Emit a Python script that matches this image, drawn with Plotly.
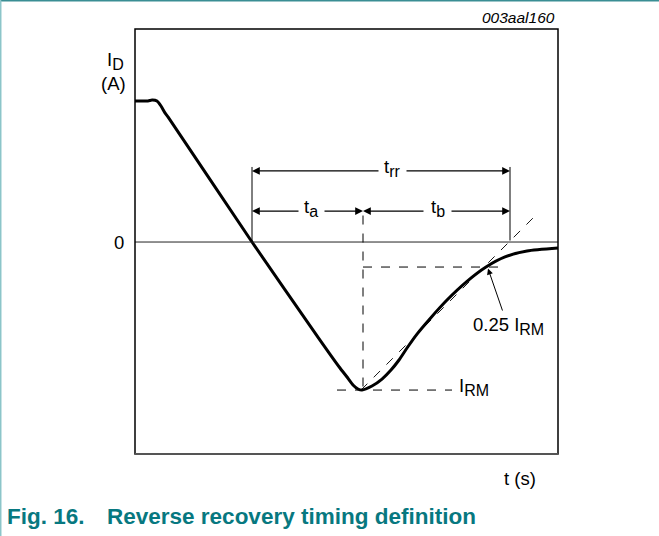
import plotly.graph_objects as go

# ---- data (arbitrary time units, current normalised to I_RM = -1) ----
t = [0.0, 1.3, 1.7, 2.2, 2.6, 3.0, 3.3, 11.7, 18.5, 20.5, 21.2, 21.8, 22.3, 22.7,
     23.7, 24.7, 25.6, 26.4, 27.2, 28.2, 29.5, 31.2, 33.2, 35.1, 37.0, 39.2, 42.3]
i_d = [0.953, 0.953, 0.959, 0.953, 0.919, 0.872, 0.845, 0.0, -0.662, -0.851,
       -0.912, -0.966, -0.993, -1.0, -0.973, -0.926, -0.865, -0.797, -0.716,
       -0.622, -0.518, -0.392, -0.266, -0.169, -0.101, -0.061, -0.041]

T_ZERO = 11.7      # current crosses zero
T_RM = 22.7        # time of peak reverse current
I_RM = -1.0        # peak reverse current
T_END = 37.5       # end of t_rr (tangent crosses zero)
I_25 = -0.169      # 0.25 I_RM level as drawn
T_25 = 35.3        # point where curve reaches 0.25 I_RM
TAN_END = (40.3, 0.196)
X_MAX = 42.3
Y_MIN, Y_MAX = -1.432, 1.439
ROW_TRR = 0.480
ROW_TAB = 0.209
V_TOP = 0.507

BLACK = "#000000"
TEAL = "#077880"
FONT = "Liberation Sans, Arial, sans-serif"
FS = 18.5
SUB_FS = 16

def sub(s):
    return '<sub><span style="font-size:%gpx">%s</span></sub>' % (SUB_FS, s)

fig = go.Figure()

# main curve
fig.add_trace(go.Scatter(x=t, y=i_d, mode="lines",
                         line=dict(color=BLACK, width=3, shape="spline", smoothing=0.6),
                         hoverinfo="skip", showlegend=False))

def seg(x0, y0, x1, y1, dash="solid", width=1.0, color=BLACK):
    fig.add_shape(type="line", x0=x0, y0=y0, x1=x1, y1=y1, xref="x", yref="y",
                  line=dict(color=color, width=width, dash=dash))

# zero line
seg(0, 0, X_MAX, 0, width=1.0, color="#222222")
# dashed construction lines
seg(20.2, I_RM, 31.7, I_RM, dash="dash")
seg(T_RM + 0.1, ROW_TAB - 0.03, T_RM + 0.1, I_RM, dash="dash")
seg(T_RM + 0.1, I_25, 37.0, I_25, dash="dash")
seg(22.6, I_RM, TAN_END[0], TAN_END[1], dash="dash", width=0.9)
# vertical limits of t_rr
seg(T_ZERO, V_TOP, T_ZERO, 0)
seg(T_END, V_TOP, T_END, 0.01)

def arrow(x_tip, y_tip, x_tail, y_tail, width=1.2, size=1.3):
    fig.add_annotation(x=x_tip, y=y_tip, ax=x_tail, ay=y_tail, xref="x", yref="y",
                       axref="x", ayref="y", text="", showarrow=True,
                       arrowhead=2, arrowsize=size, arrowwidth=width,
                       arrowcolor=BLACK, standoff=0, startstandoff=0)

# t_rr row
arrow(T_ZERO, ROW_TRR, 24.5, ROW_TRR)
arrow(T_END, ROW_TRR, 27.0, ROW_TRR)
# t_a row
arrow(T_ZERO, ROW_TAB, 16.5, ROW_TAB)
arrow(T_RM + 0.1, ROW_TAB, 18.8, ROW_TAB)
# t_b row
arrow(T_RM + 0.1, ROW_TAB, 29.0, ROW_TAB)
arrow(T_END, ROW_TAB, 31.5, ROW_TAB)
# 0.25 I_RM leader
arrow(T_25, I_25 - 0.01, 36.8, -0.473, width=1.0, size=1.2)

def label(x, y, text, size=FS, xanchor="center", yanchor="middle", xref="x", yref="y",
          color=BLACK, family=FONT):
    fig.add_annotation(x=x, y=y, text=text, xref=xref, yref=yref, showarrow=False,
                       xanchor=xanchor, yanchor=yanchor,
                       font=dict(size=size, color=color, family=family))

label(25.7, ROW_TRR + 0.02, "t" + sub("rr"))
label(17.6, ROW_TAB + 0.02, "t" + sub("a"))
label(30.3, ROW_TAB + 0.02, "t" + sub("b"))
label(32.2, I_RM + 0.02, "I" + sub("RM"), xanchor="left")
label(33.6, -0.57, "0.25 I" + sub("RM"), xanchor="left")
# labels outside the plotting area (paper coordinates)
label(-0.0378, 0.4988, "0", xref="paper", yref="paper")
label(-0.0709, 0.9247, "I" + sub("D"), xanchor="left", xref="paper", yref="paper")
label(-0.052, 0.8706, "(A)", xref="paper", yref="paper")
label(0.910, -0.0565, "t (s)", xref="paper", yref="paper")
label(0.9976, 1.0282, "<i>003aal160</i>", size=15.5, xanchor="right", xref="paper", yref="paper")
label(-0.3073, -0.1459, "<b>Fig. 16.\u2003Reverse recovery timing definition</b>", size=22.5,
      xanchor="left", xref="paper", yref="paper", color=TEAL)

# plot frame
fig.add_shape(type="rect", xref="paper", yref="paper", x0=0, y0=0, x1=1, y1=1,
              line=dict(color=BLACK, width=1.5))
fig.add_shape(type="line", xref="paper", yref="paper", x0=0, y0=0, x1=1, y1=0,
              line=dict(color="#555555", width=2))
# page border (top + left)
fig.add_shape(type="line", xref="paper", yref="paper", x0=-0.3180, y0=1.0671, x1=1.24, y1=1.0671,
              line=dict(color="#3a8e94", width=2))
fig.add_shape(type="line", xref="paper", yref="paper", x0=-0.3180, y0=1.0671, x1=-0.3180, y1=-0.25,
              line=dict(color="#8cc5c9", width=2))

fig.update_xaxes(range=[0, X_MAX], showgrid=False, zeroline=False, showticklabels=False,
                 ticks="", showline=False)
fig.update_yaxes(range=[Y_MIN, Y_MAX], showgrid=False, zeroline=False, showticklabels=False,
                 ticks="", showline=False)
fig.update_layout(width=659, height=536, margin=dict(l=135, r=101, t=29, b=82),
                  plot_bgcolor="white", paper_bgcolor="white", showlegend=False,
                  font=dict(family=FONT))

fig.write_html("out.html", config={"displayModeBar": False},
               post_script="document.body.style.margin='0';")
